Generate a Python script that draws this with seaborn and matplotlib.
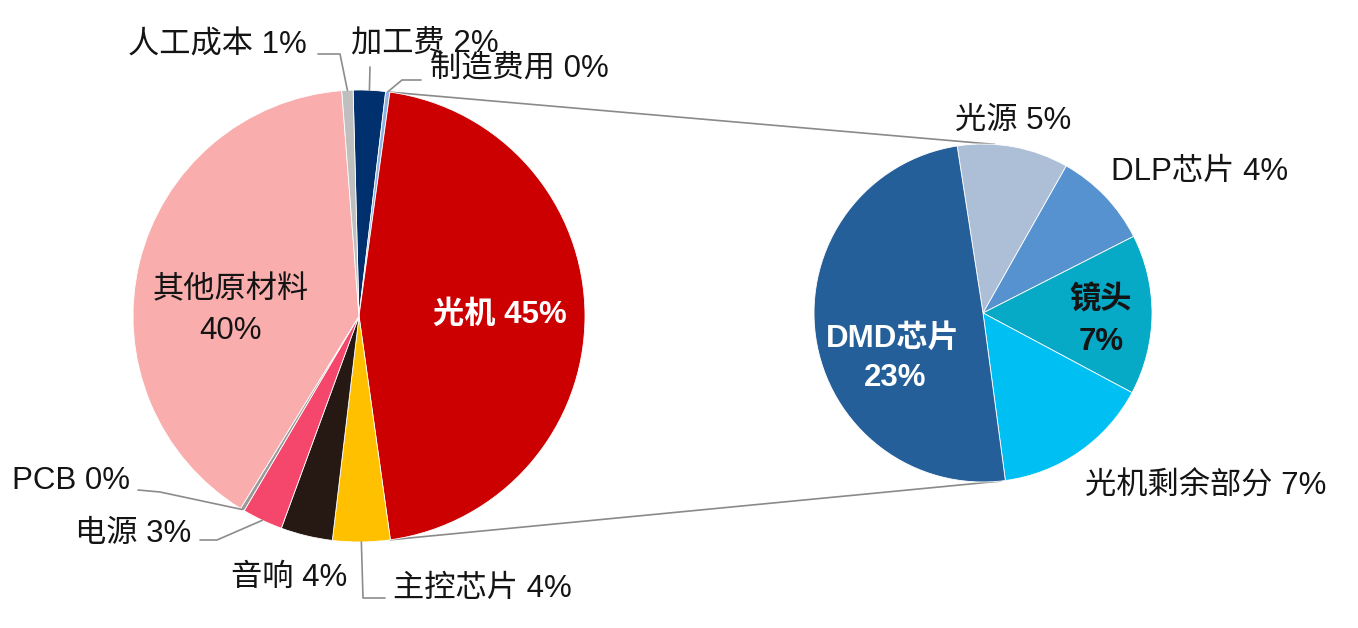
import numpy as np
import pandas as pd
import matplotlib
matplotlib.use('Agg')
import matplotlib.pyplot as plt
import seaborn as sns

# ---- data ----
main_labels = ['加工费', '制造费用', '光机', '主控芯片', '音响', '电源', 'PCB', '其他原材料', '人工成本']
main_values = [2.3, 0.3, 45.6, 4.1, 3.7, 2.9, 0.3, 40.0, 0.8]
main_pct = [2, 0, 45, 4, 4, 3, 0, 40, 1]

sub_labels = ['光源', 'DLP芯片', '镜头', '光机剩余部分', 'DMD芯片']
sub_values = [4.8, 4.2, 6.9, 6.8, 22.4]
sub_pct = [5, 4, 7, 7, 23]

# ---- styles ----
main_colors = ['#00306e', '#8db3e2', '#cc0000', '#ffc000', '#261812',
               '#f4476b', '#9a9a9a', '#f9adad', '#bfbfbf']
sub_colors = ['#adbfd6', '#5692cf', '#06a9c6', '#00bff3', '#245f99']

sns.set_theme(style='white')
plt.rcParams['font.family'] = ['Liberation Sans', 'Noto Sans CJK SC', 'DejaVu Sans']

W, H = 1358, 628


def P(x, y):
    return (x, H - y)


fig = plt.figure(figsize=(W / 100, H / 100), dpi=100)
ax = fig.add_axes([0, 0, 1, 1])

c_left = P(359, 316)
r_left = 226
c_right = P(983, 313)
r_right = 169

wl, _ = ax.pie(main_values, colors=main_colors, startangle=91.5, counterclock=False,
               radius=r_left, center=c_left,
               wedgeprops=dict(linewidth=0.6, edgecolor='white'))
wr, _ = ax.pie(sub_values, colors=sub_colors, startangle=98.8, counterclock=False,
               radius=r_right, center=c_right,
               wedgeprops=dict(linewidth=0.6, edgecolor='white'))

ax.set_xlim(0, W)
ax.set_ylim(0, H)
ax.set_aspect('auto')
ax.axis('off')


def pt(center, r, ang):
    a = np.deg2rad(ang)
    return (center[0] + r * np.cos(a), center[1] + r * np.sin(a))


def mid(w):
    return 0.5 * (w.theta1 + w.theta2)


# connecting lines from 光机 wedge to the sub pie
gj = wl[2]
p_top = pt(c_left, r_left, gj.theta2)
p_bot = pt(c_left, r_left, gj.theta1)
q_top = pt(c_right, r_right, 86)
q_bot = pt(c_right, r_right, -84)
ax.plot([p_top[0], q_top[0]], [p_top[1], q_top[1]], color='#8a8a8a', lw=1.2, zorder=0)
ax.plot([p_bot[0], q_bot[0]], [p_bot[1], q_bot[1]], color='#8a8a8a', lw=1.2, zorder=0)

txt = '#141414'
fs = 22.5
lead = dict(color='#8c8c8c', lw=1.2, zorder=3)


def leader(idx, pts):
    e = pt(c_left, r_left, mid(wl[idx]))
    xs = [p[0] for p in pts] + [e[0]]
    ys = [p[1] for p in pts] + [e[1]]
    ax.plot(xs, ys, **lead)


def lab(i):
    return f'{main_labels[i]} {main_pct[i]}%'


# outside labels on main pie
ax.text(*P(307, 46), lab(8), ha='right', va='center', fontsize=fs, color=txt)
leader(8, [P(318, 54), P(340, 54)])

ax.text(*P(351, 44), lab(0), ha='left', va='center', fontsize=fs, color=txt)
leader(0, [P(370, 67)])

ax.text(*P(430, 69), lab(1), ha='left', va='center', fontsize=fs, color=txt)
leader(1, [P(421, 80), P(402, 80)])

ax.text(*P(130, 481), lab(6), ha='right', va='center', fontsize=fs, color=txt)
leader(6, [P(138, 490), P(160, 492)])

ax.text(*P(191, 534), lab(5), ha='right', va='center', fontsize=fs, color=txt)
leader(5, [P(200, 540), P(217, 540)])

ax.text(*P(347, 578), lab(4), ha='right', va='center', fontsize=fs, color=txt)

ax.text(*P(393, 589), lab(3), ha='left', va='center', fontsize=fs, color=txt)
leader(3, [P(385, 598), P(363, 598)])

# inside labels main pie
ax.text(*P(500, 315), lab(2), ha='center', va='center', fontsize=fs,
        color='white', fontweight='bold')
ax.text(*P(231, 290), main_labels[7], ha='center', va='center', fontsize=fs, color=txt)
ax.text(*P(231, 331), f'{main_pct[7]}%', ha='center', va='center', fontsize=fs, color=txt)

# sub pie labels
ax.text(*P(1013, 121), f'{sub_labels[0]} {sub_pct[0]}%', ha='center', va='center',
        fontsize=fs, color=txt)
ax.text(*P(1111, 172), f'{sub_labels[1]} {sub_pct[1]}%', ha='left', va='center',
        fontsize=fs, color=txt)
ax.text(*P(1101, 300), sub_labels[2], ha='center', va='center', fontsize=fs,
        color=txt, fontweight='bold')
ax.text(*P(1101, 342), f'{sub_pct[2]}%', ha='center', va='center', fontsize=fs,
        color=txt, fontweight='bold')
ax.text(*P(1085, 487), f'{sub_labels[3]} {sub_pct[3]}%', ha='left', va='center',
        fontsize=fs, color=txt)
ax.text(*P(893, 339), sub_labels[4], ha='center', va='center', fontsize=fs,
        color='white', fontweight='bold')
ax.text(*P(895, 378), f'{sub_pct[4]}%', ha='center', va='center', fontsize=fs,
        color='white', fontweight='bold')

fig.savefig('out.png', dpi=100, facecolor='white')
